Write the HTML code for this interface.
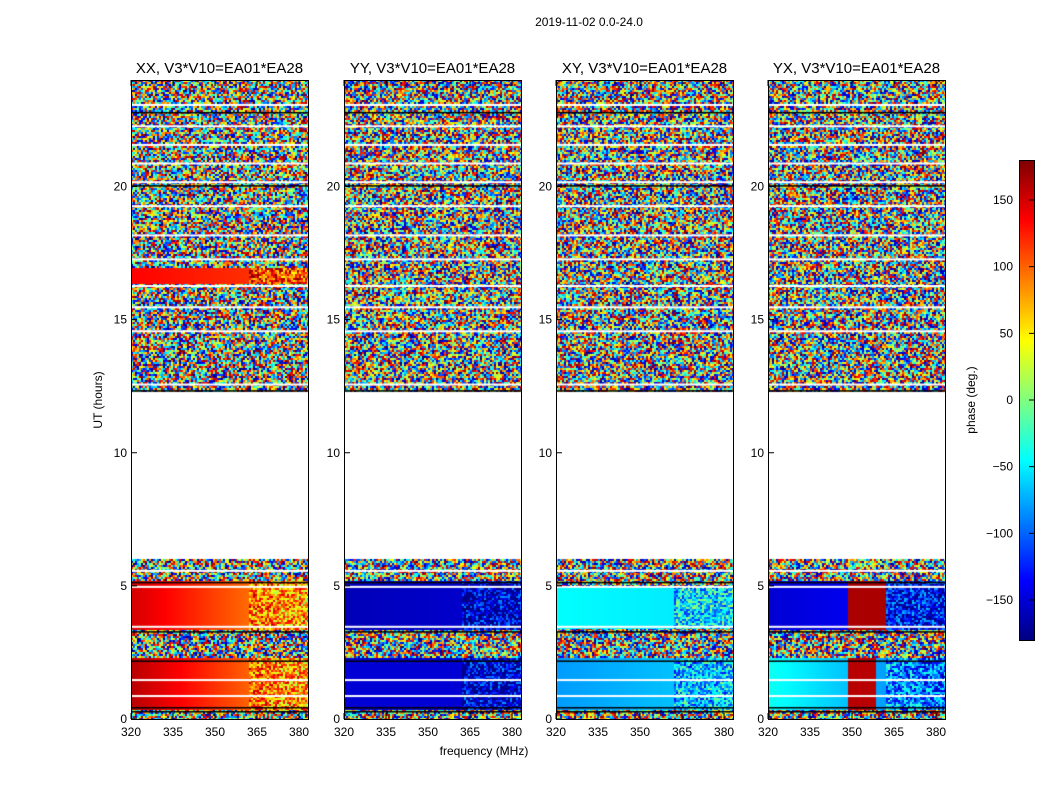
<!DOCTYPE html>
<html><head><meta charset="utf-8"><style>
body{margin:0;background:#fff;width:1050px;height:800px;overflow:hidden;font-family:"Liberation Sans",sans-serif;}
#wrap{position:relative;width:1050px;height:800px;}
canvas{position:absolute;}
svg{position:absolute;left:0;top:0;}
</style></head><body>
<div id="wrap">
<svg id="ax" width="1050" height="800"></svg>
</div>
<script>
// ---- data ----
const panelTitles = ["XX, V3*V10=EA01*EA28","YY, V3*V10=EA01*EA28","XY, V3*V10=EA01*EA28","YX, V3*V10=EA01*EA28"];
const xTicks = [320,335,350,365,380];
const yTicks = [0,5,10,15,20];
const cbTicks = [-150,-100,-50,0,50,100,150];
// bands: [startHour, endHour, phaseLeft, phaseRight, optional [f0,f1,phase] patch] ; null phase = incoherent
const bandsXX = [[0,0.4,null,null],[0.4,2.35,160,70],[2.35,3.4,null,null],[3.4,5.2,150,70],[5.2,6.0,null,null],[12.3,16.4,null,null],[16.4,17.0,135,110],[17.0,24,null,null]];
const bandsYY = [[0,0.4,null,null],[0.4,2.35,-150,-150],[2.35,3.4,null,null],[3.4,5.2,-160,-150],[5.2,6.0,null,null],[12.3,24,null,null]];
const bandsXY = [[0,0.4,null,null],[0.4,2.35,-80,-60],[2.35,3.4,null,null],[3.4,5.0,-45,-55],[5.0,6.0,null,null],[12.3,24,null,null]];
const bandsYX = [[0,0.4,null,null],[0.4,2.35,-40,-100,[348,358,160]],[2.35,3.4,null,null],[3.4,5.2,-150,-130,[348,362,165]],[5.2,6.0,null,null],[12.3,24,null,null]];
const panelBands = [bandsXX,bandsYY,bandsXY,bandsYX];
const whiteLines = [0.9,1.5,3.5,5.0,5.6,12.6,14.6,15.5,16.3,17.3,18.2,19.3,20.2,20.9,21.6,22.3,23.1];
const blackLines = [0.3,0.45,2.2,3.3,5.15,12.35,20.05,22.8];

// ---- geometry ----
const panelX = [131,344,556,768], panelW = 177, plotTop = 80, plotBot = 719;
const fMin = 320, fMax = 383.2, tMin = 0, tMax = 24;
const xS = (p,f)=>panelX[p]+(f-fMin)/(fMax-fMin)*panelW;
const yS = t=>plotBot-(t-tMin)/(tMax-tMin)*(plotBot-plotTop);
const cbX=1019, cbW=15, cbTop=160, cbBot=640;
const cbY = v=>cbBot-(v+180)/360*(cbBot-cbTop);

function jet(v){
  let x=(v+180)/360; x=Math.max(0,Math.min(1,x));
  const c=t=>Math.round(255*Math.max(0,Math.min(1,1.5-Math.abs(4*x-t))));
  return [c(3),c(2),c(1)];
}
function hash(a,b){let h=(a*374761393+b*668265263)|0;h=(h^(h>>>13))*1274126177|0;return ((h^(h>>>16))>>>0)/4294967296;}

const wrap=document.getElementById('wrap');
const svg=document.getElementById('ax');
const NS="http://www.w3.org/2000/svg";
function mk(tag,attrs,name,txt){const e=document.createElementNS(NS,tag);for(const k in attrs)e.setAttribute(k,attrs[k]);


if(txt!==undefined)e.textContent=txt;svg.appendChild(e);return e;}

panelBands.forEach((bands,p)=>{
  const cv=document.createElement('canvas');
  cv.width=panelW;cv.height=plotBot-plotTop;
  cv.style.left=panelX[p]+'px';cv.style.top=plotTop+'px';
  
  
  wrap.insertBefore(cv,svg);
  const ctx=cv.getContext('2d');
  ctx.fillStyle='#fff';ctx.fillRect(0,0,cv.width,cv.height);
  bands.forEach(b=>{
    const y0=yS(b[1])-plotTop, y1=yS(b[0])-plotTop;
    for(let y=Math.floor(y0);y<Math.ceil(y1);y+=2){
      for(let x=0;x<panelW;x+=2){
        let v;
        if(b[2]===null){v=hash(x*7+p*1000,y*13)*360-180;}
        else{const fr=x/panelW;const f=fMin+fr*(fMax-fMin);v=b[2]+(b[3]-b[2])*fr;
          if(b[4]&&f>=b[4][0]&&f<b[4][1]) v=b[4][2];
          if(f>362) v+= (hash(x,y+p*77)-0.5)*140;
          v=Math.max(-179,Math.min(179,v));}
        const c=jet(v);ctx.fillStyle=`rgb(${c[0]},${c[1]},${c[2]})`;ctx.fillRect(x,y,2,2);
      }
    }
  });
  whiteLines.forEach(t=>{ctx.fillStyle='#fff';ctx.fillRect(0,yS(t)-plotTop,panelW,2);});
  blackLines.forEach(t=>{ctx.fillStyle='#000';ctx.fillRect(0,yS(t)-plotTop,panelW,1.5);});
  mk('rect',{x:panelX[p]+0.5,y:plotTop+0.5,width:panelW,height:plotBot-plotTop,fill:'none',stroke:'#000','stroke-width':1},'panel-frame-'+p);
  mk('text',{x:panelX[p]+panelW/2,y:plotTop-7,'text-anchor':'middle','font-size':15},'panel-title-'+p,panelTitles[p]);
  xTicks.forEach(f=>{const x=xS(p,f);
    mk('line',{x1:x,x2:x,y1:plotBot,y2:plotBot-6,stroke:'#000'},'x-tick');
    mk('line',{x1:x,x2:x,y1:plotTop,y2:plotTop+6,stroke:'#000'},'x-tick-top');
    mk('text',{x:x,y:plotBot+17,'text-anchor':'middle','font-size':12},'x-tick-label',String(f));});
  yTicks.forEach(t=>{const y=yS(t);
    mk('line',{x1:panelX[p],x2:panelX[p]+6,y1:y,y2:y,stroke:'#000'},'y-tick');
    mk('text',{x:panelX[p]-4,y:y+4,'text-anchor':'end','font-size':12},'y-tick-label',String(t));});
});
mk('text',{x:589,y:26,'text-anchor':'middle','font-size':12},'figure-title','2019-11-02 0.0-24.0');
mk('text',{x:484,y:755,'text-anchor':'middle','font-size':12},'x-axis-title','frequency (MHz)');
mk('text',{x:102,y:400,'text-anchor':'middle','font-size':12,transform:'rotate(-90 102 400)'},'y-axis-title','UT (hours)');
const cb=document.createElement('canvas');cb.width=cbW;cb.height=cbBot-cbTop;
cb.style.left=cbX+'px';cb.style.top=cbTop+'px';


wrap.insertBefore(cb,svg);
const cctx=cb.getContext('2d');
for(let y=0;y<cb.height;y++){const v=180-y/cb.height*360;const c=jet(v);cctx.fillStyle=`rgb(${c[0]},${c[1]},${c[2]})`;cctx.fillRect(0,y,cbW,1);}
mk('rect',{x:cbX+0.5,y:cbTop+0.5,width:cbW,height:cbBot-cbTop,fill:'none',stroke:'#000'},'colorbar-frame');
cbTicks.forEach(v=>{const y=cbY(v);
  mk('line',{x1:cbX+cbW-5,x2:cbX+cbW,y1:y,y2:y,stroke:'#000'},'colorbar-tick');
  mk('text',{x:cbX-6,y:y+4,'font-size':12,'text-anchor':'end'},'colorbar-tick-label',(v<0?'\u2212'+(-v):String(v)));});
mk('text',{x:975,y:400,'text-anchor':'middle','font-size':12,transform:'rotate(-90 975 400)'},'colorbar-title','phase (deg.)');
</script>
</body></html>
